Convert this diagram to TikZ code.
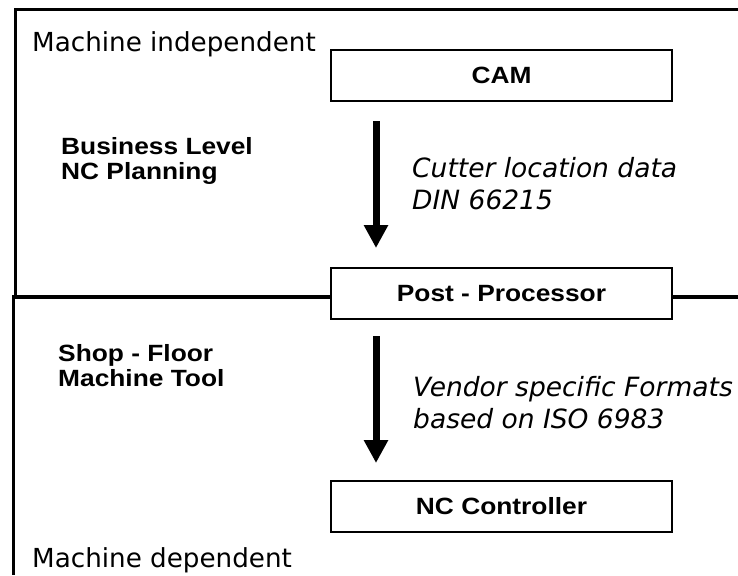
\documentclass[tikz,border=0pt]{standalone}
\usepackage{fontspec}
\setmainfont{DejaVu Sans}
\newfontfamily\boxfont[FakeStretch=1.12]{Liberation Sans}
\usetikzlibrary{arrows.meta}
\tikzset{
  frameline/.style={line width=3pt},
  midline/.style={line width=4pt},
  procbox/.style={draw, line width=2pt, minimum width=341pt, minimum height=51pt,
    inner sep=0pt, font=\boxfont\bfseries\fontsize{23.5}{25.5}\selectfont},
  bigarrow/.style={line width=7pt, -{Triangle[width=23pt,length=23pt]}},
  zonetext/.style={anchor=base west, inner sep=0pt, font=\fontsize{26.2}{32}\selectfont},
  flowtext/.style={anchor=base west, inner sep=0pt, align=left, font=\itshape\fontsize{26.5}{32}\selectfont},
  leveltext/.style={anchor=base west, inner sep=0pt, align=left, font=\boxfont\bfseries\fontsize{23.5}{24.5}\selectfont}
}
\begin{document}
\begin{tikzpicture}[x=1pt,y=-1pt]
\useasboundingbox (0,0) rectangle (738,575);
% boxes
\node[procbox] (cam) at (501.5,75.5) {CAM};
\node[procbox] (post) at (501.5,293.5) {Post - Processor};
\node[procbox] (nc) at (501.5,506.5) {NC Controller};
% frame
\coordinate (tr) at (738,10);
\coordinate (tl) at (15,10);
\coordinate (ul) at (15,297);
\coordinate (ll) at (13.5,297);
\coordinate (lb) at (13.5,575);
\coordinate (ml) at (12,297);
\coordinate (mr) at (738,297);
\draw[frameline] (tr) -- (tl) -- (ul);
\draw[frameline] (ll) -- (lb);
\draw[midline] (ml) -- (ml -| post.west);
\draw[midline] (post.east |- mr) -- (mr);
% arrows
\draw[bigarrow, shorten <=19pt, shorten >=19pt] ([xshift=46pt]cam.south west) -- ([xshift=46pt]post.north west);
\draw[bigarrow, shorten <=16pt, shorten >=17pt] ([xshift=46pt]post.south west) -- ([xshift=46pt]nc.north west);
% texts
\node[zonetext] (mi) at (32,52) {Machine independent};
\node[zonetext] (md) at (32,567) {Machine dependent};
\node[leveltext] (bl) at (61,179) {Business Level\\NC Planning};
\node[leveltext] (sf) at (58,386) {Shop - Floor\\Machine Tool};
\node[flowtext] (cl) at (412,209) {Cutter location data\\DIN 66215};
\node[flowtext] (vs) at (413,428) {Vendor specific Formats\\based on ISO 6983};
\end{tikzpicture}
\end{document}
